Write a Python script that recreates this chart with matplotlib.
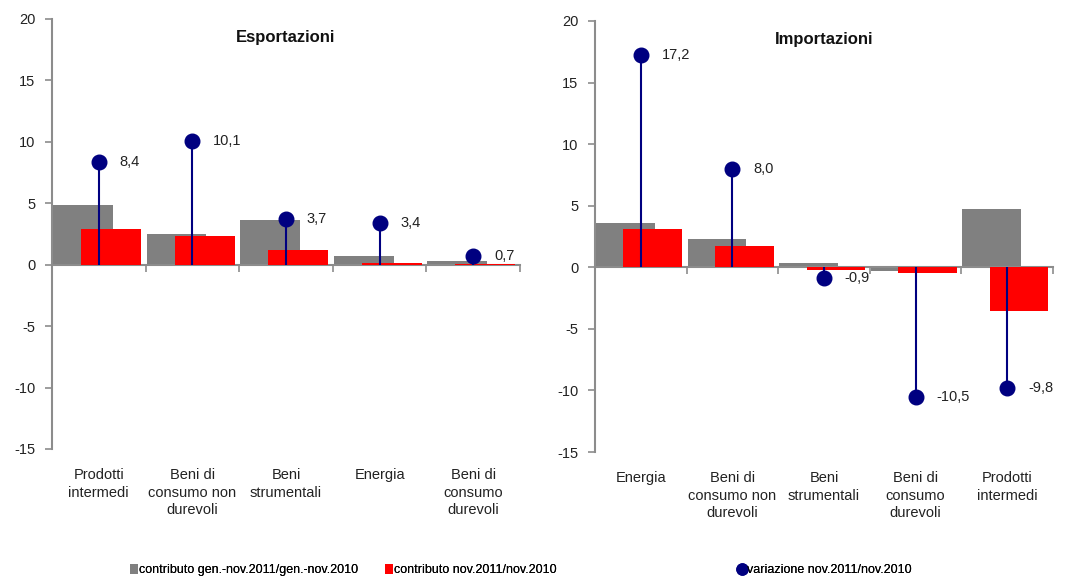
import matplotlib
matplotlib.use("Agg")
import matplotlib.pyplot as plt
import matplotlib.transforms as mtransforms
from matplotlib.lines import Line2D
from matplotlib.patches import Patch
import numpy as np

plt.rcParams['font.family'] = ['Liberation Sans Narrow', 'Liberation Sans', 'DejaVu Sans']

# ---- data ----
exp_categories = ["Prodotti\nintermedi", "Beni di\nconsumo non\ndurevoli", "Beni\nstrumentali",
                  "Energia", "Beni di\nconsumo\ndurevoli"]
exp_contrib_year = [4.9, 2.5, 3.6, 0.7, 0.3]
exp_contrib_month = [2.9, 2.3, 1.2, 0.15, 0.05]
exp_variation = [8.4, 10.1, 3.7, 3.4, 0.7]

imp_categories = ["Energia", "Beni di\nconsumo non\ndurevoli", "Beni\nstrumentali",
                  "Beni di\nconsumo\ndurevoli", "Prodotti\nintermedi"]
imp_contrib_year = [3.6, 2.3, 0.35, -0.27, 4.75]
imp_contrib_month = [3.1, 1.7, -0.25, -0.45, -3.55]
imp_variation = [17.2, 8.0, -0.9, -10.5, -9.8]

titles = ["Esportazioni", "Importazioni"]
legend_labels = ["contributo gen.-nov.2011/gen.-nov.2010",
                 "contributo nov.2011/nov.2010",
                 "variazione nov.2011/nov.2010"]
yticks = [-15, -10, -5, 0, 5, 10, 15, 20]

GREY = "#808080"
RED = "#FF0000"
NAVY = "#000080"
AXC = "#8c8c8c"
TXT = "#222222"
FS = 10.5

fig = plt.figure(figsize=(10.89, 5.79), dpi=100)
ax1 = fig.add_axes([52/1089, 1-449/579, (520-52)/1089, (449-19)/579])
ax2 = fig.add_axes([595/1089, 1-452/579, (1053-595)/1089, (452-21)/579])


def draw(ax, cats, cy, cm, var, title):
    n = len(cats)
    x = np.arange(n)
    w = 0.64
    ax.bar(x - 0.17, cy, width=w, color=GREY, zorder=2)
    ax.bar(x + 0.13, cm, width=w, color=RED, zorder=3)
    ax.vlines(x, 0, var, color=NAVY, lw=1.5, zorder=4)
    ax.plot(x, var, 'o', color=NAVY, ms=10.5, zorder=5)
    for xi, v in zip(x, var):
        ax.annotate(f"{v:.1f}".replace('.', ','), (xi, v), xytext=(15, 0),
                    textcoords='offset points', ha='left', va='center',
                    fontsize=FS, color=TXT, zorder=6)
    ax.set_xlim(-0.5, n - 0.5)
    ax.set_ylim(-15, 20)
    ax.set_yticks(yticks)
    ax.set_yticklabels([str(t) for t in yticks], fontsize=FS, color=TXT)
    ax.tick_params(axis='y', direction='out', length=5, color=AXC, width=1.2, pad=7)
    for s in ['top', 'right']:
        ax.spines[s].set_visible(False)
    ax.spines['left'].set_color(AXC)
    ax.spines['left'].set_linewidth(1.5)
    ax.spines['bottom'].set_position(('data', 0))
    ax.spines['bottom'].set_color(AXC)
    ax.spines['bottom'].set_linewidth(1.5)
    ax.set_xticks(np.arange(n + 1) - 0.5)
    ax.set_xticklabels([])
    ax.tick_params(axis='x', direction='out', length=5, color=AXC, width=1.2)
    trans = mtransforms.blended_transform_factory(ax.transData, ax.transAxes)
    for xi, c in zip(x, cats):
        ax.text(xi, -0.045, c, transform=trans, ha='center', va='top',
                fontsize=FS, color=TXT, linespacing=1.3)
    ax.text(0.5, 0.975, title, transform=ax.transAxes, ha='center', va='top',
            fontsize=12, fontweight='bold', color='#111111')


draw(ax1, exp_categories, exp_contrib_year, exp_contrib_month, exp_variation, titles[0])
draw(ax2, imp_categories, imp_contrib_year, imp_contrib_month, imp_variation, titles[1])

handles = [Patch(facecolor=GREY), Patch(facecolor=RED),
           Line2D([], [], marker='o', color=NAVY, ls='none', ms=8)]
leg_x = [130/1089, 385/1089, 738/1089]
for h, lab, lx in zip(handles, legend_labels, leg_x):
    leg = fig.legend([h], [lab], loc='center left', bbox_to_anchor=(lx, 1-570/579),
                     frameon=False, fontsize=9, handlelength=0.6, handleheight=0.9,
                     handletextpad=0.1, borderpad=0, borderaxespad=0)
    fig.add_artist(leg)

fig.savefig("out.png", dpi=100)
